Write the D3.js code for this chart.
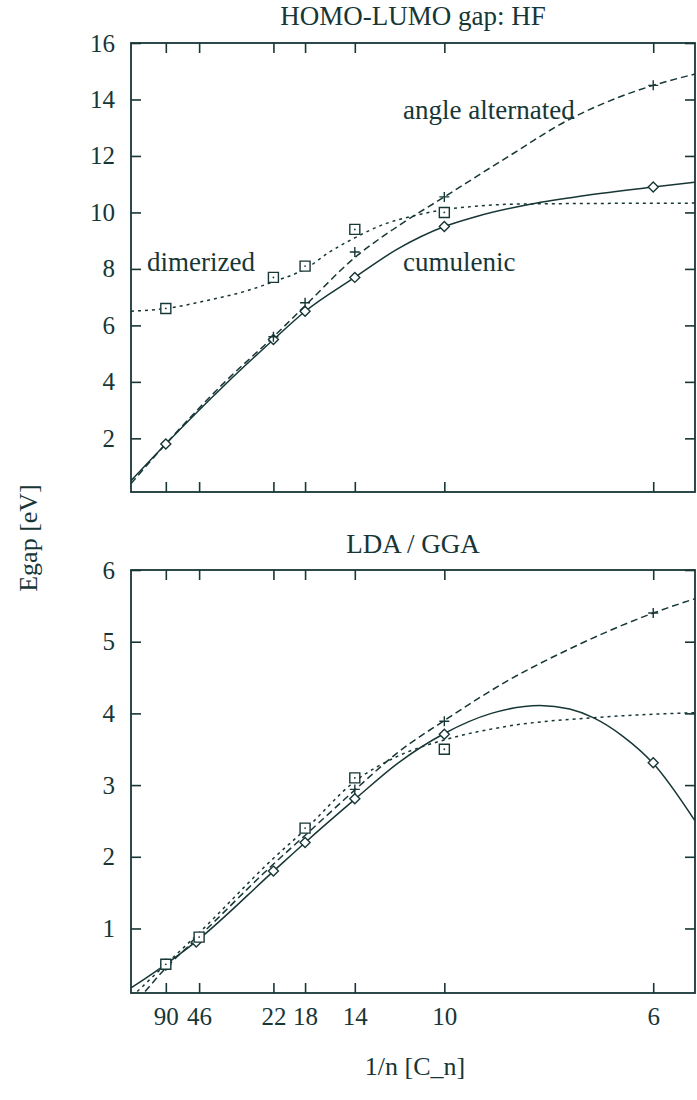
<!DOCTYPE html>
<html>
<head>
<meta charset="utf-8">
<script src="https://cdn.jsdelivr.net/npm/d3@7"></script>
<style>
  body { margin: 0; background: #fff; }
  svg text { font-family: "Liberation Serif", "DejaVu Serif", serif; fill: #173636; }
</style>
</head>
<body>
<div id="chart"></div>
<script>
// x axis: carbon chain length n, plotted as 1/n
let nTicks = [90, 46, 22, 18, 14, 10, 6];

// HF panel: computed points
let hfCumN = [90, 22, 18, 14, 10, 6];
let hfCumE = [1.8, 5.5, 6.5, 7.7, 9.5, 10.9];
let hfAltN = [22, 18, 14, 10, 6];
let hfAltE = [5.6, 6.8, 8.6, 10.55, 14.5];
let hfDimN = [90, 22, 18, 14, 10];
let hfDimE = [6.6, 7.7, 8.1, 9.4, 10.0];

// HF panel: fitted curves (x = 1/n)
let hfCumFitX = [0, 0.0111, 0.03, 0.0455, 0.0556, 0.0714, 0.085, 0.1, 0.11, 0.1278, 0.145, 0.1667, 0.18];
let hfCumFitE = [0.5, 1.8, 3.9, 5.5, 6.5, 7.7, 8.7, 9.5, 9.85, 10.3, 10.6, 10.9, 11.07];
let hfAltFitX = [0, 0.0111, 0.03, 0.0455, 0.0556, 0.0714, 0.085, 0.1, 0.12, 0.14, 0.155, 0.1667, 0.18];
let hfAltFitE = [0.4, 1.8, 4.0, 5.6, 6.7, 8.4, 9.5, 10.55, 11.95, 13.3, 14.05, 14.5, 14.9];
let hfDimFitX = [0, 0.0111, 0.025, 0.0377, 0.0455, 0.0556, 0.0634, 0.0714, 0.08, 0.091, 0.1, 0.11, 0.125, 0.18];
let hfDimFitE = [6.5, 6.6, 6.9, 7.25, 7.55, 8.0, 8.6, 9.1, 9.55, 9.9, 10.1, 10.22, 10.3, 10.33];

// LDA / GGA panel: computed points
let ldaCumN = [90, 48, 22, 18, 14, 10, 6];
let ldaCumE = [0.5, 0.81, 1.8, 2.2, 2.81, 3.71, 3.31];
let ldaAltN = [90, 14, 10, 6];
let ldaAltE = [0.48, 2.94, 3.89, 5.4];
let ldaDimN = [90, 46, 18, 14, 10];
let ldaDimE = [0.5, 0.88, 2.4, 3.1, 3.5];

// LDA / GGA panel: fitted curves
let ldaCumFitX = [0, 0.0111, 0.0208, 0.0455, 0.0556, 0.0714, 0.085, 0.1, 0.115, 0.1305, 0.14, 0.1475, 0.157, 0.1667, 0.18];
let ldaCumFitE = [0.17, 0.5, 0.82, 1.8, 2.2, 2.8, 3.3, 3.72, 4.0, 4.11, 4.06, 3.94, 3.68, 3.3, 2.5];
let ldaAltFitX = [0.0045, 0.0111, 0.0208, 0.0455, 0.0556, 0.0714, 0.085, 0.1, 0.12, 0.14, 0.1667, 0.18];
let ldaAltFitE = [0.12, 0.45, 0.85, 1.9, 2.3, 2.93, 3.45, 3.9, 4.45, 4.9, 5.4, 5.6];
let ldaDimFitX = [0.002, 0.0111, 0.0208, 0.0455, 0.0556, 0.0714, 0.085, 0.1, 0.12, 0.1475, 0.18];
let ldaDimFitE = [0.12, 0.5, 0.9, 1.98, 2.38, 3.05, 3.4, 3.63, 3.82, 3.94, 4.01];

let ink = "#173636";
let serif = "'Liberation Serif', 'DejaVu Serif', serif";
let svgWidth = 697, svgHeight = 1100;

let svg = d3.select("#chart")
    .append("svg")
    .attr("width", svgWidth)
    .attr("height", svgHeight);

let xScale = d3.scaleLinear().domain([0, 0.18]).range([131, 695]);

let panels = [
  {
    id: "hf", title: "HOMO-LUMO gap: HF", top: 43, bottom: 492,
    yDomain: [0.1, 16], yTicks: [2, 4, 6, 8, 10, 12, 14, 16], xLabels: false,
    titleY: 25,
    fits: [[hfCumFitX, hfCumFitE, null], [hfAltFitX, hfAltFitE, "7,4"], [hfDimFitX, hfDimFitE, "3,4"]],
    points: [[hfCumN, hfCumE, "diamond"], [hfAltN, hfAltE, "plus"], [hfDimN, hfDimE, "square"]]
  },
  {
    id: "lda", title: "LDA / GGA", top: 570, bottom: 993,
    yDomain: [0.1, 6], yTicks: [1, 2, 3, 4, 5, 6], xLabels: true,
    titleY: 553,
    fits: [[ldaCumFitX, ldaCumFitE, null], [ldaAltFitX, ldaAltFitE, "7,4"], [ldaDimFitX, ldaDimFitE, "3,4"]],
    points: [[ldaCumN, ldaCumE, "diamond"], [ldaAltN, ldaAltE, "plus"], [ldaDimN, ldaDimE, "square"]]
  }
];

panels.forEach(function(p) {
  let yScale = d3.scaleLinear().domain(p.yDomain).range([p.bottom, p.top]);
  let g = svg.append("g");

  g.append("clipPath").attr("id", "clip-" + p.id)
    .append("rect")
    .attr("x", xScale.range()[0]).attr("y", p.top)
    .attr("width", xScale.range()[1] - xScale.range()[0])
    .attr("height", p.bottom - p.top);

  // axes with inward ticks on all four sides
  let tickX = nTicks.map(n => 1 / n);
  let axisB = d3.axisBottom(xScale).tickValues(tickX).tickSize(-10).tickPadding(14)
      .tickFormat((d, i) => p.xLabels ? nTicks[i] : "");
  let axisT = d3.axisTop(xScale).tickValues(tickX).tickSize(-10).tickFormat("");
  let axisL = d3.axisLeft(yScale).tickValues(p.yTicks).tickSize(-10).tickPadding(16)
      .tickFormat(d3.format("d"));
  let axisR = d3.axisRight(yScale).tickValues(p.yTicks).tickSize(-10).tickFormat("");

  [[axisB, `translate(0,${p.bottom})`], [axisT, `translate(0,${p.top})`],
   [axisL, `translate(${xScale.range()[0]},0)`], [axisR, `translate(${xScale.range()[1]},0)`]]
    .forEach(function(a) {
      let ag = g.append("g").attr("transform", a[1]).call(a[0]);
      ag.attr("font-family", null);
      ag.select(".domain").remove();
      ag.selectAll("line").attr("stroke", ink).attr("stroke-width", 1.6);
      ag.selectAll("text").attr("fill", ink)
        .style("font-family", serif).style("font-size", "25px");
    });

  g.append("rect")
    .attr("x", xScale.range()[0]).attr("y", p.top)
    .attr("width", xScale.range()[1] - xScale.range()[0])
    .attr("height", p.bottom - p.top)
    .attr("fill", "none").attr("stroke", ink).attr("stroke-width", 1.8);

  // fitted curves
  let line = d3.line().x(d => xScale(d[0])).y(d => yScale(d[1])).curve(d3.curveMonotoneX);
  p.fits.forEach(function(f) {
    let pts = f[0].map((x, i) => [x, f[1][i]]);
    g.append("path")
      .attr("d", line(pts))
      .attr("fill", "none")
      .attr("stroke", ink)
      .attr("stroke-width", 1.5)
      .attr("stroke-dasharray", f[2])
      .attr("clip-path", `url(#clip-${p.id})`);
  });

  // point markers
  p.points.forEach(function(s) {
    let data = s[0].map((n, i) => ({x: 1 / n, e: s[1][i]}));
    let m = g.selectAll(null).data(data).enter().append("path")
      .attr("transform", d => `translate(${xScale(d.x)},${yScale(d.e)})`)
      .attr("fill", s[2] === "plus" ? "none" : "#fff")
      .attr("stroke", ink)
      .attr("stroke-width", 1.4);
    if (s[2] === "diamond") m.attr("d", "M0,-5L5,0L0,5L-5,0Z");
    else if (s[2] === "square") m.attr("d", "M-5,-5H5V5H-5Z");
    else m.attr("d", "M-5,0H5M0,-5V5");
    if (s[2] === "square") {
      g.selectAll(null).data(data).enter().append("circle")
        .attr("cx", d => xScale(d.x)).attr("cy", d => yScale(d.e))
        .attr("r", 0.9).attr("fill", ink);
    }
  });

  g.append("text")
    .attr("x", (xScale.range()[0] + xScale.range()[1]) / 2)
    .attr("y", p.titleY)
    .attr("text-anchor", "middle")
    .style("font-size", "27px")
    .text(p.title);
});

// curve labels in the HF panel
let hfLabels = [
  {t: "angle alternated", x: 403, y: 119},
  {t: "dimerized", x: 147, y: 271},
  {t: "cumulenic", x: 403, y: 271}
];
svg.selectAll(null).data(hfLabels).enter().append("text")
  .attr("x", d => d.x).attr("y", d => d.y)
  .style("font-size", "27px")
  .text(d => d.t);

// axis titles
svg.append("text")
  .attr("transform", "translate(37,538) rotate(-90)")
  .attr("text-anchor", "middle")
  .style("font-size", "26px")
  .text("Egap [eV]");

svg.append("text")
  .attr("x", 415).attr("y", 1075)
  .attr("text-anchor", "middle")
  .style("font-size", "26px")
  .text("1/n [C_n]");
</script>
</body>
</html>
